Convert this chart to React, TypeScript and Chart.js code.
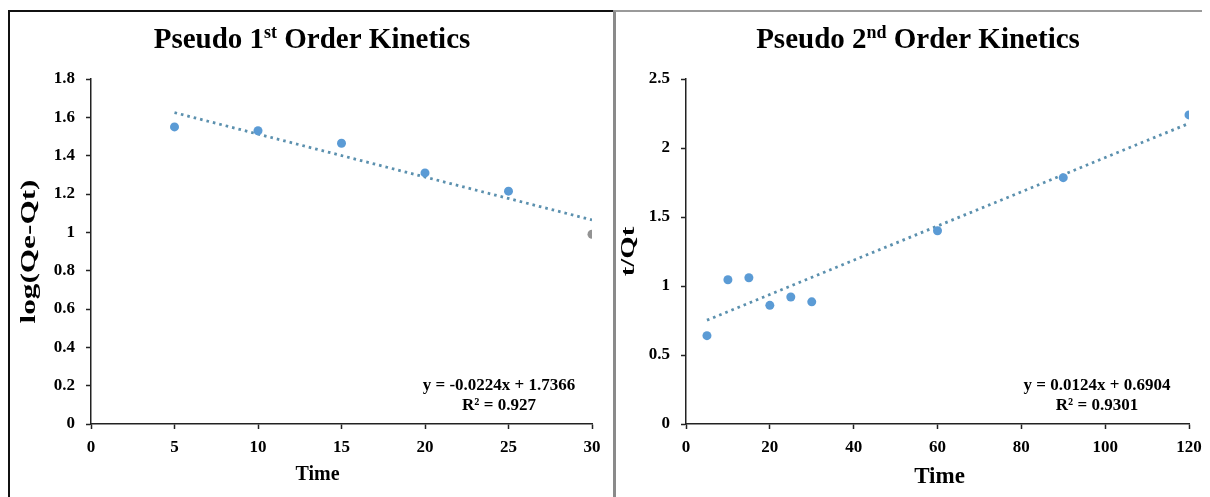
import React, { useEffect, useRef } from 'react';
import { Chart, registerables } from 'chart.js';

Chart.register(...registerables);

const FONT = '"Liberation Serif", "Times New Roman", Times, serif';

// ---- Pseudo 1st order kinetics ----
const p1Time = [5, 10, 15, 20, 25];
const p1LogQ = [1.55, 1.53, 1.465, 1.31, 1.215];
const p1LastTime = [30];
const p1LastLogQ = [0.99];
const p1TrendTime = [5, 30];
const p1TrendLogQ = [1.6246, 1.0646];
const p1XRange = [0, 30, 5];
const p1YRange = [0, 1.8, 0.2];
const p1Equation = ['y = -0.0224x + 1.7366', 'R\u00B2 = 0.927'];

// ---- Pseudo 2nd order kinetics ----
const p2Time = [5, 10, 15, 20, 25, 30, 60, 90, 120];
const p2TQt = [0.64, 1.045, 1.06, 0.86, 0.92, 0.885, 1.4, 1.785, 2.24];
const p2TrendTime = [5, 120];
const p2TrendTQt = [0.7524, 2.1784];
const p2XRange = [0, 120, 20];
const p2YRange = [0, 2.5, 0.5];
const p2Equation = ['y = 0.0124x + 0.6904', 'R\u00B2 = 0.9301'];

const POINT_BLUE = '#5B9BD5';
const POINT_GRAY = '#939393';
const TREND = '#5B90AE';

function pts(xs: number[], ys: number[]) {
  return xs.map((x, i) => ({ x, y: ys[i] }));
}

type Spec = {
  titleMain: string;
  titleSup: string;
  titleRest: string;
  titleX: number;
  yTitle: string;
  yTitleX: number;
  yTitleSize: number;
  xTitle: string;
  xTitleDx: number;
  xTitleY: number;
  xTitleSize: number;
  yAxisWidth: number;
  xr: number[];
  yr: number[];
  eq: string[];
  eqDx: number;
  datasets: any[];
  padRight: number;
};

function makePlugin(spec: Spec) {
  return {
    id: 'decor',
    afterDraw(chart: any) {
      const ctx = chart.ctx;
      const a = chart.chartArea;
      ctx.save();
      ctx.fillStyle = '#000';
      // Title with superscript
      const big = `bold 29px ${FONT}`;
      const small = `bold 18px ${FONT}`;
      ctx.font = big;
      const w1 = ctx.measureText(spec.titleMain).width;
      const w3 = ctx.measureText(spec.titleRest).width;
      ctx.font = small;
      const w2 = ctx.measureText(spec.titleSup).width;
      const total = w1 + w2 + w3;
      let x = spec.titleX - total / 2;
      const baseY = 36;
      ctx.textBaseline = 'alphabetic';
      ctx.textAlign = 'left';
      ctx.font = big;
      ctx.fillText(spec.titleMain, x, baseY);
      x += w1;
      ctx.font = small;
      ctx.fillText(spec.titleSup, x, baseY - 10);
      x += w2;
      ctx.font = big;
      ctx.fillText(spec.titleRest, x, baseY);
      // Axis titles
      ctx.textAlign = 'center';
      ctx.textBaseline = 'middle';
      ctx.font = `bold ${spec.xTitleSize}px ${FONT}`;
      ctx.fillText(spec.xTitle, (a.left + a.right) / 2 + spec.xTitleDx, spec.xTitleY);
      ctx.save();
      ctx.translate(spec.yTitleX, (a.top + a.bottom) / 2);
      ctx.rotate(-Math.PI / 2);
      ctx.scale(1.25, 0.85);
      ctx.font = `bold ${spec.yTitleSize}px ${FONT}`;
      ctx.fillText(spec.yTitle, 0, 0);
      ctx.restore();
      // Trendline equation
      ctx.font = `bold 17px ${FONT}`;
      ctx.textAlign = 'center';
      ctx.textBaseline = 'middle';
      const cx = a.right - spec.eqDx;
      ctx.fillText(spec.eq[0], cx, a.bottom - 38);
      ctx.fillText(spec.eq[1], cx, a.bottom - 18);
      ctx.restore();
    },
  };
}

function buildConfig(spec: Spec): any {
  const tickFont = { family: FONT, size: 17, weight: 'bold' as const };
  const fmt = (v: any) => String(Number(Number(v).toFixed(2)));
  return {
    type: 'scatter',
    data: { datasets: spec.datasets },
    plugins: [makePlugin(spec)],
    options: {
      responsive: false,
      animation: false,
      events: [],
      layout: { padding: { left: 0, right: spec.padRight, top: 67, bottom: 3 } },
      plugins: { legend: { display: false }, tooltip: { enabled: false }, title: { display: false } },
      scales: {
        x: {
          type: 'linear',
          min: spec.xr[0],
          max: spec.xr[1],
          ticks: { stepSize: spec.xr[2], color: '#000', font: tickFont, padding: 8, callback: fmt },
          grid: { display: true, drawOnChartArea: false, drawTicks: true, tickLength: 5, tickColor: '#222', tickWidth: 1.5 },
          border: { display: true, color: '#222', width: 1.5 },
          title: { display: false },
          afterFit: (s: any) => { s.height = 70; },
        },
        y: {
          type: 'linear',
          min: spec.yr[0],
          max: spec.yr[1],
          ticks: { stepSize: spec.yr[2], color: '#000', font: tickFont, padding: 11, callback: fmt },
          grid: { display: true, drawOnChartArea: false, drawTicks: true, tickLength: 5, tickColor: '#222', tickWidth: 1.5 },
          border: { display: true, color: '#222', width: 1.5 },
          title: { display: false },
          afterFit: (s: any) => { s.width = spec.yAxisWidth; },
        },
      },
    },
  };
}

function trendDataset(xs: number[], ys: number[]) {
  return {
    data: pts(xs, ys),
    showLine: true,
    borderColor: TREND,
    borderWidth: 2.8,
    borderDash: [2.6, 4],
    pointRadius: 0,
    fill: false,
  };
}

function pointDataset(xs: number[], ys: number[], color: string) {
  return {
    data: pts(xs, ys),
    showLine: false,
    pointRadius: 4.5,
    pointBackgroundColor: color,
    pointBorderColor: color,
    pointBorderWidth: 0,
  };
}

const spec1: Spec = {
  titleMain: 'Pseudo 1',
  titleSup: 'st',
  titleRest: ' Order Kinetics',
  titleX: 302,
  yTitle: 'log(Qe-Qt)',
  yTitleX: 20,
  yTitleSize: 25,
  xTitle: 'Time',
  xTitleDx: -24,
  xTitleY: 463,
  xTitleSize: 20,
  yAxisWidth: 81,
  xr: p1XRange,
  yr: p1YRange,
  eq: p1Equation,
  eqDx: 93,
  padRight: 20,
  datasets: [
    pointDataset(p1Time, p1LogQ, POINT_BLUE),
    pointDataset(p1LastTime, p1LastLogQ, POINT_GRAY),
    trendDataset(p1TrendTime, p1TrendLogQ),
  ],
};

const spec2: Spec = {
  titleMain: 'Pseudo 2',
  titleSup: 'nd',
  titleRest: ' Order Kinetics',
  titleX: 302,
  yTitle: 't/Qt',
  yTitleX: 13,
  yTitleSize: 23,
  xTitle: 'Time',
  xTitleDx: 2,
  xTitleY: 465,
  xTitleSize: 23,
  yAxisWidth: 70,
  xr: p2XRange,
  yr: p2YRange,
  eq: p2Equation,
  eqDx: 92,
  padRight: 21,
  datasets: [
    pointDataset(p2Time, p2TQt, POINT_BLUE),
    trendDataset(p2TrendTime, p2TrendTQt),
  ],
};

function ChartCanvas({ spec, left, width }: { spec: Spec; left: number; width: number }) {
  const ref = useRef<HTMLCanvasElement | null>(null);
  useEffect(() => {
    if (!ref.current) return;
    const chart = new Chart(ref.current, buildConfig(spec));
    return () => chart.destroy();
  }, [spec]);
  return (
    <canvas
      ref={ref}
      width={width}
      height={485}
      style={{ position: 'absolute', left, top: 4, width, height: 485, display: 'block' }}
    />
  );
}

export default function App() {
  return (
    <div style={{ position: 'relative', width: 1202, height: 489, overflow: 'hidden', background: '#fff' }}>
      <div
        style={{
          position: 'absolute', left: 0, top: 2, width: 605, height: 500, boxSizing: 'border-box',
          borderLeft: '2px solid #111', borderTop: '2px solid #111',
        }}
      />
      <div
        style={{
          position: 'absolute', left: 605, top: 2, width: 600, height: 500, boxSizing: 'border-box',
          borderLeft: '3px solid #8a8a8a', borderTop: '2px solid #9a9a9a',
        }}
      />
      <ChartCanvas spec={spec1} left={2} width={602} />
      <ChartCanvas spec={spec2} left={608} width={594} />
    </div>
  );
}
